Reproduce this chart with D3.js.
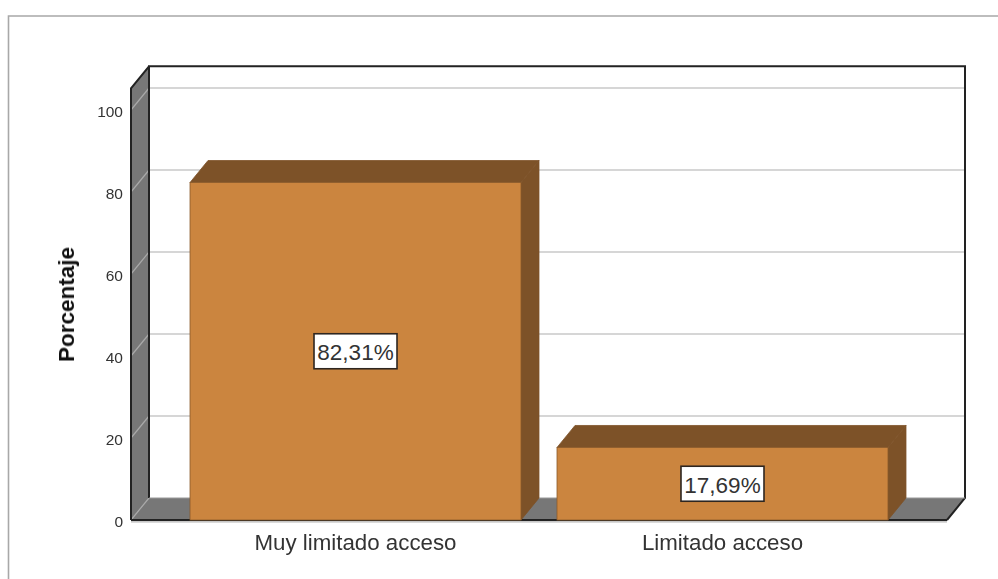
<!DOCTYPE html>
<html><head><meta charset="utf-8">
<script src="https://cdn.jsdelivr.net/npm/d3@7/dist/d3.min.js"></script>
<style>
html,body{margin:0;padding:0;background:#fff;overflow:hidden}
svg{display:block;font-family:"Liberation Sans",Arial,sans-serif;filter:blur(0.35px)}
</style></head><body>
<script>
const categories = ["Muy limitado acceso", "Limitado acceso"];
const values = [82.31, 17.69];
const valueLabels = ["82,31%", "17,69%"];
const yTicks = [0, 20, 40, 60, 80, 100];
const yTitle = "Porcentaje";

const W = 998, H = 579;
const dx = 18, dy = -22;           // depth of the 3D projection
const x0 = 131, x1 = 947;
const y = d3.scaleLinear().domain([0, 100]).range([520, 110]);
const yTop = y(105.3);
const x = d3.scaleBand().domain(categories).range([x0, x1])
  .paddingInner(0.0981).paddingOuter(0.1608);

const wallC = "#777777", frameC = "#222222", gridC = "#c9c9c9", wallGrid = "#a9a9a9";
const barFront = "#cb853f", barDark = "#7d5228", barEdge = "#8a5a2b";

const svg = d3.select("body").append("svg").attr("width", W).attr("height", H);
const P = pts => pts.map(p => p.join(",")).join(" ");
const path = pts => "M" + pts.map(p => p.join(",")).join("L");

// outer frame
svg.append("path").attr("d", path([[8.5, H], [8.5, 16], [W, 16]]))
  .attr("fill", "none").attr("stroke", "#a8a8a8").attr("stroke-width", 1.6);

// back wall, side wall, floor
svg.append("rect").attr("x", x0 + dx).attr("y", yTop + dy)
  .attr("width", x1 - x0).attr("height", y(0) - yTop).attr("fill", "#fff");
svg.append("polygon").attr("points", P([[x0, yTop], [x0 + dx, yTop + dy], [x0 + dx, y(0) + dy], [x0, y(0)]]))
  .attr("fill", wallC);
svg.append("polygon").attr("points", P([[x0, y(0)], [x0 + dx, y(0) + dy], [x1 + dx, y(0) + dy], [x1, y(0)]]))
  .attr("fill", wallC);

// gridlines
const gridG = svg.append("g");
yTicks.filter(t => t > 0).forEach(t => {
  gridG.append("line").attr("x1", x0).attr("y1", y(t)).attr("x2", x0 + dx).attr("y2", y(t) + dy)
    .attr("stroke", wallGrid).attr("stroke-width", 1.2);
  gridG.append("line").attr("x1", x0 + dx).attr("y1", y(t) + dy).attr("x2", x1 + dx).attr("y2", y(t) + dy)
    .attr("stroke", gridC).attr("stroke-width", 1.6);
});
gridG.append("line").attr("x1", x0).attr("y1", y(0)).attr("x2", x0 + dx).attr("y2", y(0) + dy)
  .attr("stroke", wallGrid).attr("stroke-width", 1.2);

// frame
svg.append("path").attr("d", path([[x0 + dx, y(0) + dy], [x0 + dx, yTop + dy], [x1 + dx, yTop + dy], [x1 + dx, y(0) + dy], [x1, y(0)]]))
  .attr("fill", "none").attr("stroke", frameC).attr("stroke-width", 2);
svg.append("path").attr("d", path([[x0, y(0)], [x0, yTop], [x0 + dx, yTop + dy]]))
  .attr("fill", "none").attr("stroke", frameC).attr("stroke-width", 2);
svg.append("line").attr("x1", x0 + dx).attr("y1", y(0) + dy).attr("x2", x1 + dx).attr("y2", y(0) + dy)
  .attr("stroke", "#9a9a9a").attr("stroke-width", 1.2);
svg.append("line").attr("x1", x0).attr("y1", y(0)).attr("x2", x1).attr("y2", y(0))
  .attr("stroke", frameC).attr("stroke-width", 1.8);
svg.append("line").attr("x1", x0).attr("y1", y(0) + 1.8).attr("x2", x1).attr("y2", y(0) + 1.8)
  .attr("stroke", "#b5b5b5").attr("stroke-width", 1.2);

// bars
const bars = svg.selectAll("g.bar").data(categories.map((c, i) => ({ c, v: values[i], l: valueLabels[i] })))
  .join("g").attr("class", "bar");
bars.append("polygon")
  .attr("points", d => { const a = x(d.c), b = a + x.bandwidth(), t = y(d.v);
    return P([[a, t], [a + dx, t + dy], [b + dx, t + dy], [b, t]]); })
  .attr("fill", barDark).attr("stroke", barDark).attr("stroke-width", .8);
bars.append("polygon")
  .attr("points", d => { const b = x(d.c) + x.bandwidth(), t = y(d.v);
    return P([[b, t], [b + dx, t + dy], [b + dx, y(0) + dy], [b, y(0)]]); })
  .attr("fill", barDark).attr("stroke", barDark).attr("stroke-width", .8);
bars.append("rect")
  .attr("x", d => x(d.c)).attr("y", d => y(d.v))
  .attr("width", x.bandwidth()).attr("height", d => y(0) - y(d.v))
  .attr("fill", barFront).attr("stroke", barEdge).attr("stroke-width", .8);

// value labels
const boxW = 84, boxH = 35;
bars.append("rect")
  .attr("x", d => x(d.c) + x.bandwidth() / 2 - boxW / 2 + .5)
  .attr("y", d => (y(d.v) + y(0)) / 2 - boxH / 2)
  .attr("width", boxW - 1).attr("height", boxH)
  .attr("fill", "#fff").attr("stroke", "#2e2620").attr("stroke-width", 1.6);
bars.append("text")
  .attr("x", d => x(d.c) + x.bandwidth() / 2)
  .attr("y", d => (y(d.v) + y(0)) / 2 + 9)
  .attr("text-anchor", "middle").attr("font-size", 22.5).attr("fill", "#333")
  .text(d => d.l);

// axes text
const yAxis = d3.axisLeft(y).tickValues(yTicks).tickSize(0).tickPadding(0);
const ya = svg.append("g").attr("transform", "translate(123,2)").call(yAxis);
ya.select(".domain").remove();
ya.selectAll("text").attr("font-size", 15.5).attr("font-family", '"Liberation Sans",Arial,sans-serif').attr("fill", "#333");

const xAxis = d3.axisBottom(x).tickSize(0).tickPadding(0);
const xa = svg.append("g").attr("transform", "translate(0,534)").call(xAxis);
xa.select(".domain").remove();
xa.selectAll("text").attr("font-size", 22.3).attr("font-family", '"Liberation Sans",Arial,sans-serif').attr("fill", "#333");

svg.append("text").attr("transform", "translate(74,304.5) rotate(-90)")
  .attr("text-anchor", "middle").attr("font-size", 22.5).attr("font-weight", "bold").attr("fill", "#111")
  .text(yTitle);
</script>
</body></html>
